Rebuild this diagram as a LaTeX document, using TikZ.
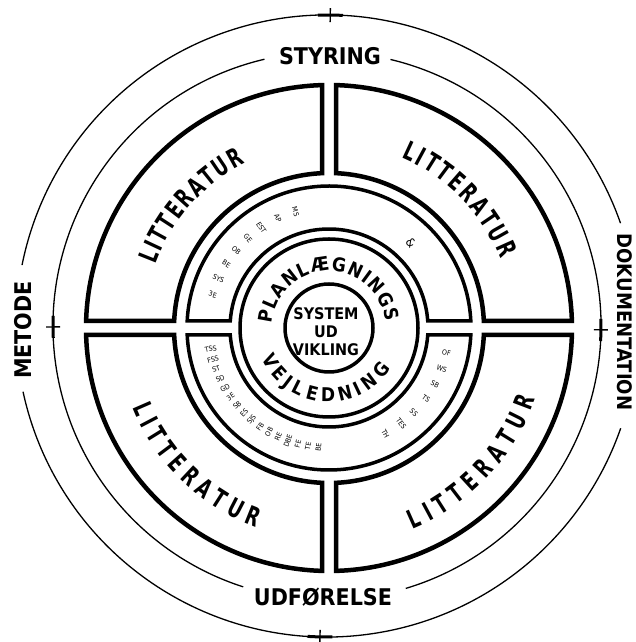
\documentclass[tikz,border=0pt]{standalone}
\usepackage{fontspec}
\setmainfont{DejaVu Sans}
\newfontfamily\hand{DejaVu Sans}[FakeStretch=0.68]
\newfontfamily\handm{DejaVu Sans}[FakeStretch=0.9]
\usetikzlibrary{decorations.text}
\newcommand\litfont{\hand\bfseries\fontsize{26}{28}\selectfont}
\newcommand\planfont{\handm\bfseries\fontsize{19}{21}\selectfont}
\newcommand\labfont{\handm\bfseries\fontsize{23}{25}\selectfont}
\newcommand\dokfont{\handm\bfseries\fontsize{20}{22}\selectfont}
\newcommand\sysfont{\handm\bfseries\fontsize{16}{18}\selectfont}
\newcommand\tokfont{\handm\fontsize{7}{8}\selectfont}
\begin{document}
\begin{tikzpicture}[x=1pt,y=1pt,
  wall/.style={line width=4.5pt},
  innerwall/.style={line width=3.5pt},
  hair/.style={line width=1.3pt},
  tickmark/.style={line width=1.4pt},
  tickbar/.style={line width=3pt},
  lab/.style={font=\labfont, inner sep=0pt},
  tok/.style={font=\tokfont, inner sep=0pt},
  arctext/.style={decorate, decoration={text along path, text align=fit to path, text={#1}}},
]
\useasboundingbox (0,0) rectangle (635,642);
% thin outer circles
\begin{scope}[shift={(327,316)}]
  \draw[hair] (19.3:311) arc[start angle=19.3, end angle=168.7, radius=311];
  \draw[hair] (192.2:311) arc[start angle=192.2, end angle=340.8, radius=311];
  \draw[hair] (103.2:274) arc[start angle=103.2, end angle=252.2, radius=274];
  \draw[hair] (286.7:274) arc[start angle=286.7, end angle=436.6, radius=274];
  \foreach \a/\r in {89.4/311, 268.7/311, 180.2/274, -0.8/274}{
    \draw[tickbar] ({\a-2.3}:\r) arc[start angle={\a-2.3}, end angle={\a+2.3}, radius=\r];
    \draw[tickmark] ({\a}:{\r-7}) -- ({\a}:{\r+7});
  }
\end{scope}
% outer labels
\node[lab] (styring) at (330,586) {STYRING};
\node[lab, rotate=90] (metode) at (23,312) {METODE};
\node[lab, rotate=-90, font=\dokfont] (dok) at (625,320) {DOKUMENTATION};
\node[lab] (udf) at (323,45) {UDFØRELSE};
% thick structure
\begin{scope}[shift={(329,314)}]
  \pgfmathsetmacro\ao{asin(7/243)}
  \pgfmathsetmacro\ai{asin(7/155)}
  \pgfmathsetmacro\bo{asin(7/142)}
  \pgfmathsetmacro\bi{asin(7/99)}
  \foreach \q in {0,90,180,270}{
    \draw[wall,rotate=\q] ({90-\ao}:243) arc[start angle={90-\ao}, end angle={\ao}, radius=243]
      -- ({\ai}:155) arc[start angle={\ai}, end angle={90-\ai}, radius=155] -- cycle;
  }
  \foreach \q in {0,180}{
    \draw[innerwall,rotate=\q] ({\bo}:142) arc[start angle={\bo}, end angle={180-\bo}, radius=142]
      -- ({180-\bi}:99) arc[start angle={180-\bi}, end angle={\bi}, radius=99] -- cycle;
  }
  \draw[innerwall] (0,0) circle[radius=89];
  \draw[innerwall] (0,0) circle[radius=44];
  % LITTERATUR in the four quadrants
  \path[arctext={|\litfont|LITTERATUR}] (160:185) arc[start angle=160, end angle=117, radius=185];
  \path[arctext={|\litfont|LITTERATUR}] (67:185) arc[start angle=67, end angle=22, radius=185];
  \path[arctext={|\litfont|LITTERATUR}] (202:212) arc[start angle=202, end angle=250, radius=212];
  \path[arctext={|\litfont|LITTERATUR}] (-67.5:218) arc[start angle=-67.5, end angle=-19, radius=218];
  % central ring
  \path[arctext={|\planfont|PLANLÆGNINGS}] (176:57) arc[start angle=176, end angle=6, radius=57];
  \path[arctext={|\planfont|VEJLEDNING}] (204:74) arc[start angle=204, end angle=327, radius=74];
  \node[font=\sysfont, align=center, inner sep=0pt] (sys) at (-3,-4) {SYSTEM\\UD\\VIKLING};
  % small notes in the band
  \foreach \a/\t in {164/3E, 156/SYS, 148/BE, 140/OB, 132/GE, 124/EST, 115/AP, 106/MS}
    \node[tok, rotate=\a-180] at (\a:121) {\t};
  \node[tok, font=\handm\fontsize{12}{12}\selectfont, rotate=-50] (amp) at (46:118) {\&};
  \foreach \a/\t in {-62/TH, -53/TES, -45/SS, -36/TS, -28/SB, -20/WS, -12/OF}
    \node[tok, rotate=\a] at (\a:120) {\t};
  \foreach \a/\t in {190/TSS, 195/FSS, 200/ST, 205/SD, 210/GD, 215/3E, 220/SB, 225/ES, 230/SJS, 235/FB, 240/OB, 245/RE, 250/DBE, 255/FE, 260/TE, 265/BE}
    \node[tok, rotate=\a-180] at (\a:120) {\t};
\end{scope}
\end{tikzpicture}
\end{document}
